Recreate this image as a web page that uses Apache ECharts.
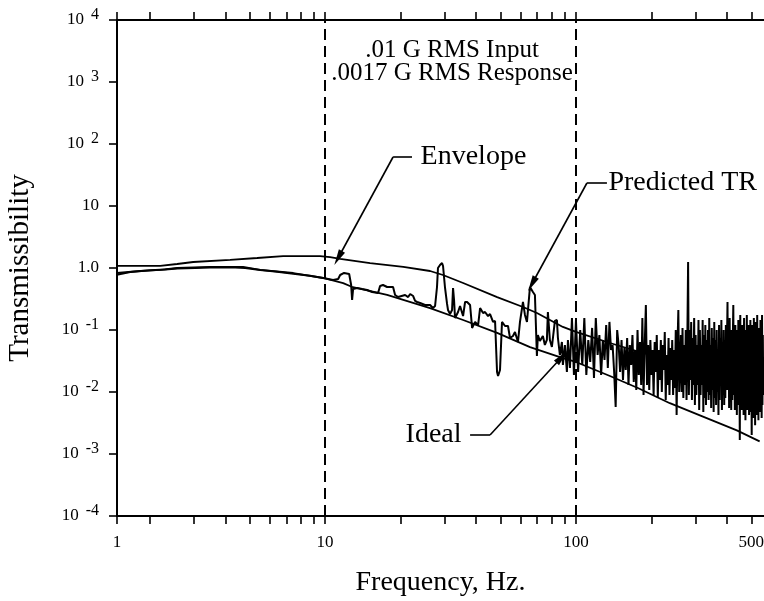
<!DOCTYPE html>
<html>
<head>
<meta charset="utf-8">
<script src="https://cdn.jsdelivr.net/npm/echarts@6/dist/echarts.min.js"></script>
<style>
  html, body { margin: 0; padding: 0; background: #fff; }
  #chart { width: 764px; height: 601px; }
</style>
</head>
<body>
<div id="chart"></div>
<script>
// frequency axis: ticks, labels
const freqTicks = [1.48, 2, 3, 4, 5, 6, 7, 8, 9, 10, 20, 30, 40, 50, 60, 70, 80, 90, 100, 200, 300, 400, 500]
const freqLabels = [1.48, 10, 100, 500]
const trTicks = [0.0001, 0.001, 0.01, 0.1, 1, 10, 100, 1000, 10000]

// Ideal curve
const idealFreq = [1.48, 1.83, 2.2, 2.57, 3.48, 4.71, 5.51, 7.46, 9.82, 11.8, 12.9, 17.66, 26.2, 35.5, 48.5, 65.6, 88.7, 100, 136.6, 176.6, 236.8, 321, 438, 540]
const idealTR = [0.83, 0.895, 0.93, 1.0, 1.04, 1.04, 0.93, 0.83, 0.69, 0.57, 0.49, 0.37, 0.226, 0.145, 0.09, 0.053, 0.0353, 0.0305, 0.0181, 0.0116, 0.0066, 0.004, 0.0024, 0.0016]

// Envelope curve
const envFreq = [1.48, 2.2, 2.57, 2.98, 4.18, 5.36, 6.8, 9.55, 10.47, 11.48, 15.11, 20.5, 26.2, 29.5, 35.5, 48.5, 61.5, 69.9, 88.7, 100, 136.6, 197.1, 284.4, 410.5, 560.6]
const envTR = [1.08, 1.08, 1.16, 1.25, 1.35, 1.45, 1.56, 1.56, 1.5, 1.4, 1.2, 1.04, 0.895, 0.771, 0.573, 0.34, 0.235, 0.188, 0.112, 0.093, 0.0617, 0.0395, 0.0263, 0.0175, 0.012]

// Predicted TR, below 100 Hz
const predLowFreq = [
  1.48, 1.67, 2.01, 2.31, 2.57, 3.03, 3.48, 4.18, 4.8, 5.51, 6.32, 7.46, 8.71, 9.82, 10.76, 11.27, 11.48, 11.9, 12.47, 12.7,
  12.81, 12.93, 13.41, 14.04, 14.7, 15.4, 16.26, 16.56, 17.02, 17.66, 18.66, 19.01, 19.54, 19.9, 20.84, 21.43, 21.83, 22.44, 22.84, 23.27,
  23.91, 25.03, 26.21, 26.9, 27.44, 27.93, 28.18, 28.71, 29.25, 29.52, 30.07, 30.63, 30.9, 31.48, 32.07, 32.36, 32.66, 32.96, 33.88, 34.51,
  35.48, 36.14, 36.81, 37.15, 37.84, 38.54, 38.89, 39.62, 40.73, 41.48, 42.62, 43.41, 44.62, 45.45, 46.72, 47.59, 48.47, 48.92, 49.8, 50.72,
  51.19, 52.14, 53.6, 54.58, 56.1, 57.14, 58.74, 59.82, 61.49, 62.62, 63.78, 65.56, 66.76, 67.38, 68.62, 69.88, 70.52, 71.82, 73.82, 75.19,
  76.58, 77.29, 78.72, 80.18, 80.93, 82.43, 83.96, 84.75, 86.31, 87.91, 88.72, 90.37, 92.04, 92.9, 94.64, 96.4, 98.18
]
const predLowTR = [
  0.78, 0.86, 0.92, 0.95, 0.98, 1.0, 1.02, 1.03, 1.0, 0.93, 0.88, 0.81, 0.75, 0.69, 0.64, 0.665, 0.771, 0.831, 0.8, 0.532,
  0.305, 0.458, 0.476, 0.458, 0.442, 0.41, 0.395, 0.513, 0.532, 0.494, 0.494, 0.367, 0.34, 0.353, 0.367, 0.34, 0.381, 0.353, 0.294, 0.283,
  0.273, 0.253, 0.253, 0.226, 0.244, 0.494, 1.0, 1.118, 1.204, 1.077, 0.476, 0.263, 0.21, 0.181, 0.21, 0.476, 0.305, 0.156, 0.195, 0.244,
  0.168, 0.283, 0.283, 0.263, 0.253, 0.108, 0.112, 0.135, 0.12, 0.226, 0.188, 0.195, 0.168, 0.181, 0.135, 0.14, 0.021, 0.0181, 0.0226, 0.135,
  0.145, 0.116, 0.116, 0.0743, 0.08, 0.0928, 0.0641, 0.135, 0.283, 0.175, 0.135, 0.494, 0.513, 0.41, 0.367, 0.0381, 0.0831, 0.0665, 0.08, 0.0573,
  0.069, 0.195, 0.069, 0.0532, 0.0573, 0.14, 0.145, 0.0743, 0.0395, 0.0641, 0.0273, 0.0573, 0.021, 0.069, 0.0244, 0.156, 0.0188
]

// Predicted TR, 100 Hz and up (2 Hz lines)
const predHighFreq = [
  100, 102, 104, 106, 108, 110, 112, 114, 116, 118, 120, 122, 124, 126, 128, 130, 132, 134, 136, 138,
  140, 142, 144, 146, 148, 150, 152, 154, 156, 158, 160, 162, 164, 166, 168, 170, 172, 174, 176, 178,
  180, 182, 184, 186, 188, 190, 192, 194, 196, 198, 200, 202, 204, 206, 208, 210, 212, 214, 216, 218,
  220, 222, 224, 226, 228, 230, 232, 234, 236, 238, 240, 242, 244, 246, 248, 250, 252, 254, 256, 258,
  260, 262, 264, 266, 268, 270, 272, 274, 276, 278, 280, 282, 284, 286, 288, 290, 292, 294, 296, 298,
  300, 302, 304, 306, 308, 310, 312, 314, 316, 318, 320, 322, 324, 326, 328, 330, 332, 334, 336, 338,
  340, 342, 344, 346, 348, 350, 352, 354, 356, 358, 360, 362, 364, 366, 368, 370, 372, 374, 376, 378,
  380, 382, 384, 386, 388, 390, 392, 394, 396, 398, 400, 402, 404, 406, 408, 410, 412, 414, 416, 418,
  420, 422, 424, 426, 428, 430, 432, 434, 436, 438, 440, 442, 444, 446, 448, 450, 452, 454, 456, 458,
  460, 462, 464, 466, 468, 470, 472, 474, 476, 478, 480, 482, 484, 486, 488, 490, 492, 494, 496, 498,
  500, 502, 504, 506, 508, 510, 512, 514, 516, 518, 520, 522, 524, 526, 528, 530, 532, 534, 536, 538,
  540, 542, 544, 546, 548, 550, 552, 554, 556, 558, 560
]
const predHighTR = [
  0.145, 0.021, 0.1, 0.0273, 0.156, 0.0188, 0.069, 0.0305, 0.108, 0.0168, 0.156, 0.0395, 0.0831, 0.0188, 0.069, 0.0328, 0.12, 0.0244, 0.135, 0.0476,
  0.0573, 0.021, 0.00573, 0.1, 0.0573, 0.021, 0.069, 0.0156, 0.0513, 0.0226, 0.0743, 0.013, 0.0573, 0.0273, 0.0831, 0.0145, 0.0476, 0.0108, 0.1, 0.0188,
  0.0641, 0.013, 0.156, 0.00895, 0.0573, 0.253, 0.013, 0.0573, 0.0108, 0.069, 0.0188, 0.0476, 0.00895, 0.0641, 0.021, 0.0831, 0.008, 0.0476, 0.0156, 0.069,
  0.01, 0.0573, 0.0226, 0.0928, 0.00743, 0.0395, 0.013, 0.0743, 0.00895, 0.0513, 0.0156, 0.069, 0.00895, 0.0476, 0.0116, 0.1, 0.00426, 0.0573, 0.21, 0.01,
  0.0226, 0.0831, 0.01, 0.108, 0.008, 0.0573, 0.013, 0.1, 0.00743, 0.069, 1.25, 0.00895, 0.1, 0.0156, 0.135, 0.00743, 0.0743, 0.013, 0.156, 0.00617,
  0.0831, 0.00895, 0.0573, 0.013, 0.145, 0.00513, 0.1, 0.00895, 0.0573, 0.013, 0.145, 0.00476, 0.0831, 0.008, 0.12, 0.00617, 0.069, 0.01, 0.1, 0.00743,
  0.156, 0.00895, 0.0573, 0.00552, 0.108, 0.0108, 0.0743, 0.00476, 0.135, 0.008, 0.069, 0.00617, 0.1, 0.01, 0.0476, 0.00426, 0.12, 0.00743, 0.0743, 0.013,
  0.145, 0.00513, 0.0573, 0.00895, 0.1, 0.00617, 0.069, 0.008, 0.12, 0.0108, 0.0573, 0.283, 0.0108, 0.0831, 0.00552, 0.156, 0.00895, 0.069, 0.00513, 0.1,
  0.00743, 0.069, 0.253, 0.00895, 0.0831, 0.00513, 0.12, 0.00743, 0.0573, 0.00426, 0.1, 0.00617, 0.145, 0.008, 0.069, 0.00168, 0.175, 0.00617, 0.0831, 0.00513,
  0.12, 0.00743, 0.0573, 0.00426, 0.156, 0.00895, 0.0743, 0.0035, 0.1, 0.00617, 0.175, 0.00513, 0.0641, 0.008, 0.12, 0.00426, 0.0831, 0.0069, 0.145, 0.00476,
  0.069, 0.00203, 0.12, 0.00617, 0.0573, 0.00381, 0.156, 0.00743, 0.0831, 0.0029, 0.135, 0.00552, 0.069, 0.00426, 0.175, 0.00743, 0.0573, 0.0035, 0.108, 0.00617,
  0.0743, 0.00476, 0.145, 0.008, 0.0641, 0.00381, 0.175, 0.00617, 0.0831, 0.00895, 0.0156
]

const zip = (xs, ys) => xs.map((x, i) => [x, ys[i]])

const serif = 'Liberation Serif'
const black = '#000'

function trLabel(value) {
  const e = Math.round(Math.log10(value))
  if (e === 0) return '1.0'
  if (e === 1) return '10'
  return '10{s|' + e + '}'
}

const arrowEnd = { symbol: 'triangle', symbolSize: [7, 16] }

const chart = echarts.init(document.getElementById('chart'))

const option = {
  animation: false,
  textStyle: { fontFamily: serif, color: black },
  grid: { left: 117, right: 0, top: 20, bottom: 85, containLabel: false, outerBoundsMode: 'none' },
  xAxis: [
    {
      type: 'log',
      min: 1.48,
      max: 562,
      name: 'Frequency, Hz.',
      nameLocation: 'middle',
      nameGap: 53,
      nameTextStyle: { fontFamily: serif, fontSize: 28, color: black },
      axisLine: { show: true, onZero: false, lineStyle: { color: black, width: 2 } },
      axisTick: { show: true, length: 8, lineStyle: { color: black, width: 1.6 }, customValues: freqTicks },
      axisLabel: {
        fontFamily: serif, fontSize: 17, color: black, margin: 18,
        customValues: freqLabels,
        formatter: v => (v < 2 ? '1' : String(Math.round(v)))
      },
      splitLine: { show: false },
      minorTick: { show: false }
    },
    {
      type: 'log',
      position: 'top',
      min: 1.48,
      max: 562,
      axisLine: { show: true, onZero: false, lineStyle: { color: black, width: 2 } },
      axisTick: { show: true, length: 8, lineStyle: { color: black, width: 1.6 }, customValues: freqTicks },
      axisLabel: { show: false },
      splitLine: { show: false }
    }
  ],
  yAxis: {
    type: 'log',
    min: 0.0001,
    max: 10000,
    name: 'Transmissibility',
    nameLocation: 'middle',
    nameGap: 82,
    nameTextStyle: { fontFamily: serif, fontSize: 29, color: black },
    axisLine: { show: true, onZero: false, lineStyle: { color: black, width: 2 } },
    axisTick: { show: true, length: 8, lineStyle: { color: black, width: 1.6 }, customValues: trTicks },
    axisLabel: {
      fontFamily: serif, fontSize: 17, color: black, margin: 18,
      customValues: trTicks,
      formatter: trLabel,
      rich: {
        s: { fontFamily: serif, fontSize: 16, color: black, padding: [0, 0, 10, 7] }
      }
    },
    splitLine: { show: false }
  },
  series: [
    {
      name: 'Envelope',
      type: 'line',
      data: zip(envFreq, envTR),
      showSymbol: false,
      silent: true,
      lineStyle: { color: black, width: 1.8 },
      markLine: {
        silent: true,
        symbol: ['none', 'none'],
        label: { show: false },
        lineStyle: { color: black, width: 2, type: [11, 6] },
        data: [{ xAxis: 10 }, { xAxis: 100 }]
      }
    },
    {
      name: 'Ideal',
      type: 'line',
      data: zip(idealFreq, idealTR),
      showSymbol: false,
      silent: true,
      lineStyle: { color: black, width: 1.8 },
      markLine: {
        silent: true,
        symbol: ['none', 'none'],
        label: { show: false },
        lineStyle: { color: black, width: 1.6, type: 'solid' },
        data: [
          [{ coord: [18.66, 61.7] }, { coord: [22.2, 61.7] }],
          [{ coord: [18.66, 61.7] }, { coord: [11.27, 1.45], ...arrowEnd }],
          [{ coord: [110.6, 23.5] }, { coord: [132.9, 23.5] }],
          [{ coord: [110.6, 23.5] }, { coord: [66.76, 0.552], ...arrowEnd }],
          [{ coord: [37.84, 0.00203] }, { coord: [45.45, 0.00203] }],
          [{ coord: [45.45, 0.00203] }, { coord: [87.9, 0.0367], ...arrowEnd }]
        ]
      },
      markPoint: {
        silent: true,
        symbol: 'circle',
        symbolSize: 1,
        itemStyle: { color: 'rgba(0,0,0,0)' },
        label: { show: true, fontFamily: serif, fontSize: 28, color: black, formatter: '{b}' },
        data: [
          { name: 'Envelope', coord: [23.05, 61.7], label: { position: 'right', distance: 4 } },
          { name: 'Predicted TR', coord: [129.3, 23.5], label: { position: 'right', distance: 4 } },
          { name: 'Ideal', coord: [36.81, 0.00203], label: { position: 'left', distance: 5 } },
          {
            name: '.01 G RMS Input\n.0017 G RMS Response',
            coord: [32.07, 2102],
            label: { position: 'inside', fontSize: 25, lineHeight: 23, align: 'center' }
          }
        ]
      }
    },
    {
      name: 'Predicted TR',
      type: 'line',
      data: zip(predLowFreq, predLowTR).concat(zip(predHighFreq, predHighTR)),
      showSymbol: false,
      silent: true,
      lineStyle: { color: black, width: 2 }
    }
  ]
}

chart.setOption(option)
</script>
</body>
</html>
